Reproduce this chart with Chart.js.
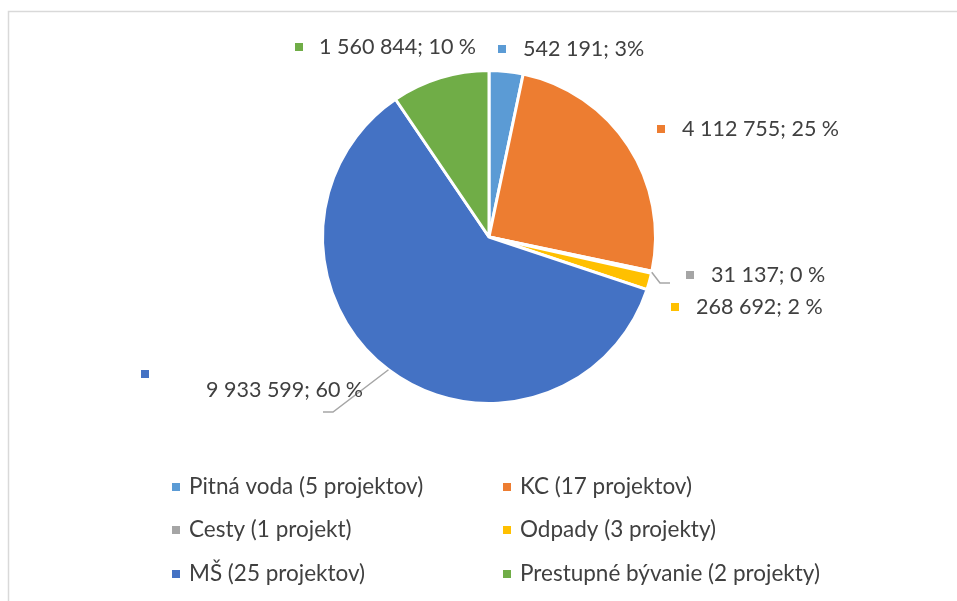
<!DOCTYPE html>
<html>
<head>
<meta charset="utf-8">
<script src="https://cdn.jsdelivr.net/npm/chart.js@4.4.1/dist/chart.umd.min.js"></script>
<style>
  html, body { margin: 0; padding: 0; background: #fff; }
  #wrap { position: relative; width: 957px; height: 601px; }
</style>
</head>
<body>
<div id="wrap"><canvas id="chart" width="957" height="601"></canvas></div>
<script>
// data
const categories = ['Pitná voda (5 projektov)', 'KC (17 projektov)', 'Cesty (1 projekt)',
                    'Odpady (3 projekty)', 'MŠ (25 projektov)', 'Prestupné bývanie (2 projekty)'];
const amounts = [542191, 4112755, 31137, 268692, 9933599, 1560844];
const percentLabels = ['3%', '25 %', '0 %', '2 %', '60 %', '10 %'];
const colors = ['#5B9BD5', '#ED7D31', '#A5A5A5', '#FFC000', '#4472C4', '#70AD47'];

const TEXT = '#404040';
const LABEL_FONT = '21.5px Lato';
const LEGEND_FONT = '22.5px Lato';

// where Excel put each data label, relative to pie centre (marker, text start, optional leader elbow)
const labelLayout = [
  { m: [13, -188], t: [34, -188] },
  { m: [172, -108], t: [193, -108] },
  { m: [201, 38], t: [222, 38], leader: [[171, 46], [181, 46]] },
  { m: [186, 70], t: [207, 70] },
  { m: [-344, 137], t: [-283, 153], leader: [[-156, 175], [-166, 175]] },
  { m: [-190, -190], t: [-170, -190] }
];

function fmt(n) {
  return String(n).replace(/\B(?=(\d{3})+(?!\d))/g, ' ');
}

const excelLabels = {
  id: 'excelLabels',
  beforeDraw(chart) {
    const ctx = chart.ctx;
    ctx.save();
    ctx.strokeStyle = '#d9d9d9';
    ctx.lineWidth = 1.5;
    ctx.beginPath();
    ctx.moveTo(8.5, 601);
    ctx.lineTo(8.5, 11.5);
    ctx.lineTo(957, 11.5);
    ctx.stroke();
    ctx.restore();
  },
  afterDatasetsDraw(chart) {
    const ctx = chart.ctx;
    const meta = chart.getDatasetMeta(0);
    ctx.save();
    ctx.font = LABEL_FONT;
    ctx.textBaseline = 'middle';
    ctx.textAlign = 'left';
    meta.data.forEach((arc, i) => {
      const p = arc.getProps(['x', 'y', 'startAngle', 'endAngle', 'outerRadius'], true);
      const L = labelLayout[i];
      if (L.leader) {
        const mid = (p.startAngle + p.endAngle) / 2;
        const r = p.outerRadius;
        ctx.strokeStyle = '#a6a6a6';
        ctx.lineWidth = 1.5;
        ctx.beginPath();
        ctx.moveTo(p.x + Math.cos(mid) * r, p.y + Math.sin(mid) * r);
        L.leader.forEach(pt => ctx.lineTo(p.x + pt[0], p.y + pt[1]));
        ctx.stroke();
      }
      ctx.fillStyle = colors[i];
      ctx.fillRect(p.x + L.m[0] - 4, p.y + L.m[1] - 4, 8, 8);
      ctx.fillStyle = TEXT;
      ctx.fillText(fmt(amounts[i]) + '; ' + percentLabels[i], p.x + L.t[0], p.y + L.t[1]);
    });

    // legend, two columns
    ctx.font = LEGEND_FONT;
    const colX = [176, 507];
    const rowY = [487, 530, 574];
    categories.forEach((c, i) => {
      const x = colX[i % 2], y = rowY[Math.floor(i / 2)];
      ctx.fillStyle = colors[i];
      ctx.fillRect(x - 4, y - 4, 8, 8);
      ctx.fillStyle = TEXT;
      ctx.fillText(c, x + 13, y);
    });
    ctx.restore();
  }
};

new Chart(document.getElementById('chart'), {
  type: 'pie',
  data: {
    labels: categories,
    datasets: [{
      data: amounts,
      backgroundColor: colors,
      borderColor: '#ffffff',
      borderWidth: 3
    }]
  },
  options: {
    responsive: false,
    animation: false,
    layout: { padding: { left: 321, right: 300, top: 69, bottom: 196 } },
    plugins: {
      legend: { display: false },
      tooltip: { enabled: false }
    }
  },
  plugins: [excelLabels]
});
</script>
</body>
</html>
